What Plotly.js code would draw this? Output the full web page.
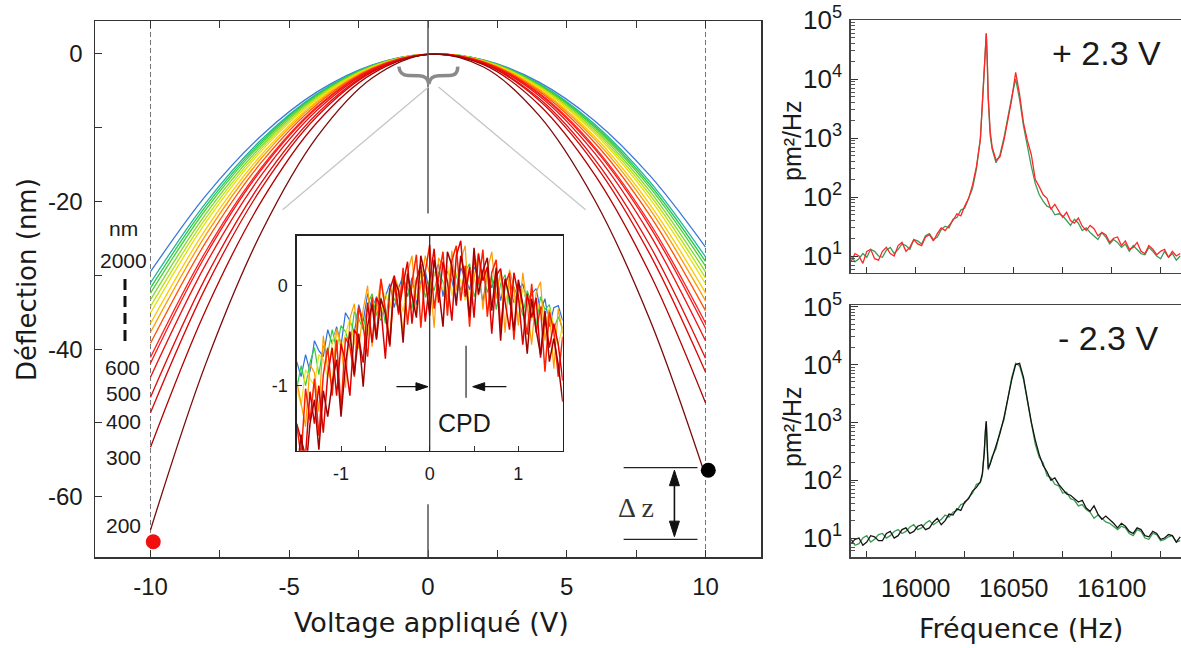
<!DOCTYPE html>
<html><head><meta charset="utf-8">
<script src="https://cdn.plot.ly/plotly-3.0.1.min.js"></script>
<style>html,body{margin:0;padding:0;background:#fff}#chart{width:1181px;height:648px}</style>
</head><body><div id="chart"></div>
<script>
// ---------------- DATA ----------------
// Main panel: deflection (nm) vs applied voltage (V), one curve per tip-sample distance (nm)
const voltage = [-10,-8,-6,-4,-2,0,2,4,6,8,10];
const distanceLabels = ['2000','1800','1600','1400','1200','1100','1000','900','800','750','700','600','550','500','400','300','200'];
const curve2000 = [-29.5,-19.16,-11.04,-5.14,-1.47,-0.03,-0.80,-3.81,-9.03,-16.49,-26.16];
const curve1800 = [-31.0,-20.13,-11.60,-5.40,-1.55,-0.03,-0.84,-4.00,-9.49,-17.33,-27.49];
const curve1600 = [-31.7,-20.59,-11.86,-5.53,-1.58,-0.03,-0.86,-4.09,-9.71,-17.72,-28.11];
const curve1400 = [-32.4,-21.04,-12.12,-5.65,-1.62,-0.03,-0.88,-4.18,-9.92,-18.11,-28.74];
const curve1200 = [-33.3,-21.63,-12.46,-5.80,-1.66,-0.03,-0.91,-4.30,-10.20,-18.61,-29.53];
const curve1100 = [-34.2,-22.21,-12.79,-5.96,-1.71,-0.03,-0.93,-4.41,-10.47,-19.11,-30.33];
const curve1000 = [-35.1,-22.79,-13.13,-6.12,-1.75,-0.03,-0.96,-4.53,-10.75,-19.62,-31.13];
const curve900  = [-36.5,-23.70,-13.65,-6.36,-1.82,-0.03,-0.99,-4.71,-11.18,-20.40,-32.37];
const curve800  = [-37.7,-24.48,-14.10,-6.57,-1.88,-0.03,-1.03,-4.86,-11.54,-21.07,-33.44];
const curve750  = [-39.2,-25.46,-14.66,-6.83,-1.95,-0.03,-1.07,-5.06,-12.00,-21.91,-34.77];
const curve700  = [-41.1,-26.69,-15.38,-7.16,-2.05,-0.03,-1.12,-5.30,-12.58,-22.97,-36.45];
const curve600  = [-41.9,-27.21,-15.67,-7.30,-2.09,-0.04,-1.14,-5.41,-12.83,-23.42,-37.16];
const curve550  = [-43.8,-28.44,-16.39,-7.63,-2.18,-0.04,-1.19,-5.65,-13.41,-24.48,-38.85];
const curve500  = [-46.5,-30.20,-17.40,-8.10,-2.32,-0.04,-1.27,-6.00,-14.24,-25.99,-41.24];
const curve400  = [-48.6,-31.56,-18.18,-8.47,-2.42,-0.04,-1.32,-6.27,-14.88,-27.16,-43.10];
const curve300  = [-53.3,-34.61,-19.94,-9.29,-2.66,-0.05,-1.45,-6.88,-16.32,-29.79,-47.27];
const curve200  = [-64.5,-41.89,-24.13,-11.24,-3.22,-0.05,-1.76,-8.32,-19.75,-36.05,-57.21];
const curves = [curve2000,curve1800,curve1600,curve1400,curve1200,curve1100,curve1000,curve900,curve800,curve750,curve700,curve600,curve550,curve500,curve400,curve300,curve200];
const curveColors = ['#3c78d8','#20b4a0','#28c850','#48d038','#80d828','#b8e018','#e8e000','#ffc800','#ff9a00','#ff5000','#ff2020','#f41818','#ec1010','#e40c0c','#d80808','#b00000','#7a0a0a'];
// end markers (red dot at -10 V, black dot at +10 V)
const dotX = [-9.9, 10.1];
const dotY = [-66.1, -56.4];
const dotColors = ['#f01010','#000000'];

// Inset: zoom on the apex, deflection (nm) vs voltage (V)
const insetV = [-1.5,-1.45,-1.4,-1.35,-1.3,-1.25,-1.2,-1.15,-1.1,-1.05,-1.0,-0.95,-0.9,-0.85,-0.8,-0.75,-0.7,-0.65,-0.6,-0.55,-0.5,-0.45,-0.4,-0.35,-0.3,-0.25,-0.2,-0.15,-0.1,-0.05,0,0.05,0.1,0.15,0.2,0.25,0.3,0.35,0.4,0.45,0.5,0.55,0.6,0.65,0.7,0.75,0.8,0.85,0.9,0.95,1.0,1.05,1.1,1.15,1.2,1.25,1.3,1.35,1.4,1.45,1.5];
const insetBlue = [-0.76,-0.91,-0.69,-0.86,-0.55,-0.65,-0.71,-0.44,-0.58,-0.41,-0.60,-0.27,-0.35,-0.47,-0.19,-0.36,-0.08,-0.25,-0.11,-0.35,-0.11,0.02,-0.22,-0.02,0.10,-0.11,0.08,-0.19,0.04,0.15,-0.08,0.11,0.22,-0.11,0.15,0.05,-0.15,0.18,0.08,-0.04,0.19,0.08,-0.16,0.12,-0.02,0.12,-0.15,0.05,0.10,-0.17,-0.04,0.02,-0.21,-0.08,-0.03,-0.25,-0.13,-0.41,-0.22,-0.20,-0.35];
const insetGreen = [-1.03,-0.80,-1.00,-0.77,-0.62,-0.89,-0.60,-0.68,-0.44,-0.64,-0.40,-0.46,-0.60,-0.26,-0.33,-0.44,-0.19,-0.08,-0.30,-0.12,-0.38,-0.02,-0.13,-0.23,0.07,-0.02,-0.23,0.07,0.15,-0.12,0.07,-0.05,0.14,0.04,-0.20,0.18,0.10,-0.05,0.15,0.22,-0.11,0.03,0.15,-0.07,0.10,-0.24,0.02,0.11,-0.19,-0.01,-0.13,-0.30,-0.05,-0.17,-0.40,-0.11,-0.24,-0.19,-0.43,-0.31,-0.43];
const insetYellow = [-1.03,-1.20,-0.84,-0.93,-1.00,-0.69,-0.74,-0.92,-0.57,-0.44,-0.64,-0.48,-0.33,-0.59,-0.32,-0.37,-0.50,-0.15,-0.21,-0.33,-0.07,-0.23,0.03,-0.10,-0.26,0.04,0.01,-0.12,0.12,-0.02,-0.21,0.13,0.07,-0.04,0.20,-0.10,0.13,0.05,-0.15,0.17,0.09,-0.10,0.12,0.16,-0.19,0.01,0.09,-0.16,-0.01,-0.13,-0.32,-0.03,-0.15,-0.35,-0.13,-0.27,-0.40,-0.22,-0.40,-0.59,-0.40];
const insetOrange = [-0.95,-1.17,-1.41,-0.79,-0.87,-1.26,-0.50,-0.84,-0.98,-0.43,-0.58,-1.02,-0.33,-0.18,-0.63,-0.24,0.00,-0.61,-0.22,0.06,-0.26,-0.52,0.10,-0.02,-0.49,0.13,0.30,-0.28,-0.01,0.30,0.11,-0.42,0.28,0.19,-0.15,0.35,-0.05,0.25,0.40,-0.31,0.08,0.33,-0.24,0.15,0.34,-0.13,0.15,-0.47,0.16,-0.02,-0.40,0.13,-0.21,-0.59,-0.07,0.04,-0.55,-0.24,-0.83,-0.23,-0.48];
const insetRed = [-1.39,-1.71,-1.03,-1.35,-0.93,-1.50,-0.89,-0.62,-1.10,-0.54,-1.23,-0.52,-0.61,-0.91,-0.21,-0.41,-0.71,-0.11,-0.52,0.07,-0.24,-0.61,0.02,-0.29,0.18,-0.39,0.03,0.31,-0.42,0.14,0.41,-0.23,0.08,0.34,-0.30,0.25,0.40,-0.15,0.20,-0.41,0.28,0.02,0.36,-0.31,0.13,0.26,-0.42,0.01,0.13,-0.54,0.02,-0.21,-0.49,0.02,-0.47,-0.21,-0.86,-0.26,-0.46,-0.91,-0.51];
const insetRed2 = [-1.38,-1.54,-1.70,-1.06,-1.38,-1.00,-1.47,-0.89,-0.62,-1.10,-0.58,-0.76,-1.10,-0.44,-0.53,-0.77,-0.17,-0.57,-0.12,-0.22,-0.73,-0.04,0.10,-0.27,0.01,0.24,-0.38,0.05,0.22,-0.36,0.05,0.37,-0.17,0.24,0.04,-0.35,0.30,0.45,-0.11,0.19,-0.32,0.32,0.05,0.19,-0.48,0.10,0.17,-0.16,-0.44,0.13,-0.10,-0.59,-0.08,-0.32,-0.12,-0.72,-0.32,-0.62,-0.38,-0.59,-0.95];
const insetDarkRed = [-1.89,-1.49,-1.88,-1.38,-1.14,-1.64,-1.05,-1.31,-0.98,-0.74,-1.31,-0.79,-0.46,-0.89,-0.48,-1.01,-0.40,-0.19,-0.54,-0.13,-0.28,-0.59,0.06,-0.05,-0.57,0.12,-0.10,-0.32,0.30,0.08,-0.30,0.26,-0.02,-0.41,0.34,0.20,-0.20,0.30,0.09,-0.31,0.38,-0.09,0.15,0.28,-0.25,0.18,-0.55,0.07,-0.12,-0.45,0.06,-0.19,-0.68,-0.13,-0.44,-0.69,-0.25,-0.76,-0.53,-0.79,-1.16];
const insetSeries = [insetBlue,insetGreen,insetYellow,insetOrange,insetRed,insetRed2,insetDarkRed];
const insetColors = ['#2f6fe0','#30d040','#f0e020','#ff9a00','#ff2000','#e00000','#a00000'];
const insetWidths = [1.2,1.2,1.2,1.2,1.5,1.5,1.5];

// Right panels: spectral density (pm²/Hz) vs frequency (Hz)
const freq = [15967,15969,15971,15973,15975,15977,15979,15981,15983,15985,15987,15989,15991,15993,15995,15997,15999,16001,16003,16005,16007,16009,16011,16013,16015,16017,16019,16021,16023,16025,16027,16029,16031,16033,
  16034,16035,16035.5,16036,16036.5,16037,16038,
  16039,16041,16043,16045,16047,16049,16051,16053,16055,16057,16059,16061,16063,16065,16067,16069,16071,16073,16075,16077,16079,16081,16083,16085,16087,16089,16091,16093,16095,16097,16099,16101,16103,16105,16107,16109,16111,16113,16115,16117,16119,16121,16123,16125,16127,16129,16131,16133,16135];
const psdPlusGreen = [10,8,9,11,9.5,13,12,10,9.5,12.5,14,11,13,16,15,13,19,18,16,22,24,19,21,28,32,30,42,45,60,65,95,140,300,1000,
  3800,16000,45000,60000,22000,4500,1100,
  650,380,520,1000,2400,5000,10000,4500,1600,700,330,170,110,85,70,65,50,52,48,40,33,42,36,27,30,25,22,19,25,21,16,19,17,14,16,12,15,13,11,10.5,14,12,10,9,12,9.5,11,8.5,10];
const psdPlusRed = [8,11,10,7.5,12,13,9,8.5,12,14,11,10,15,17,12,14,19,16,15,21,23,18,24,30,27,33,40,52,48,70,95,160,330,950,
  3500,15000,40000,58000,20000,5000,1300,
  700,420,480,900,2000,4500,13000,5500,1800,900,520,200,150,110,95,62,75,58,45,55,40,36,44,32,27,33,29,22,25,23,17,20,21,15,18,13,14,17,12,11,15,13,10.5,12,13,9.5,12,10,11];
const psdMinusGreen = [9.5,7.5,8,10,11,8.5,9.5,11.5,12,10,11,13,14,12,13,15.5,17,14,15,18,20,17,19,21,25,23,28,30,38,40,50,60,85,90,
  120,350,800,1000,350,150,200,
  260,350,700,1100,2800,6000,10500,9500,5500,2200,900,420,250,200,120,110,85,80,60,62,48,45,36,38,31,28,22,25,22,19,18,16,14,16,15,12,11,14,13,10,9.5,12,11.5,9,9.5,10.5,11,8.5,9];
const psdMinusBlack = [8,9.5,10,7.5,8.5,11,10.5,9,9,12,13,10,11,14,15,12,13,16,17,14,15,19,22,17,20,26,25,32,30,42,48,65,75,95,
  130,300,700,1050,400,160,190,
  240,380,650,1200,2600,5500,10000,10500,6000,2500,1000,500,280,180,140,100,110,85,70,58,55,48,42,45,33,29,36,26,21,24,21,18,15,18,16,13,12,15,14,11,10.5,13,12,9.5,10,11.5,11,8.5,10.5];

// Tick definitions
const mainXTicks = [-10,-5,0,5,10];
const mainXText = ['-10','-5','0','5','10'];
const mainXMinor = [-7.5,-2.5,2.5,7.5];
const mainYTicks = [0,-20,-40,-60];
const mainYText = ['0','-20','-40','-60'];
const mainYMinor = [-10,-30,-50];
const insetXTicks = [-1,0,1];
const insetXText = ['-1','0','1'];
const insetXMinor = [-0.5,0.5];
const insetYTicks = [0,-1];
const insetYText = ['0','-1'];
const freqTicks = [16000,16050,16100];
const freqText = ['16000','16050','16100'];
const freqMinor = [15975,16025,16075,16125];
const psdTicks = [10,100,1000,10000,100000];
const psdText = ['10<sup>1</sup>','10<sup>2</sup>','10<sup>3</sup>','10<sup>4</sup>','10<sup>5</sup>'];
const psdMinor = [6,7,8,9,20,30,40,50,60,70,80,90,200,300,400,500,600,700,800,900,2000,3000,4000,5000,6000,7000,8000,9000,20000,30000,40000,50000,60000,70000,80000,90000];

// ---------------- LAYOUT HELPERS ----------------
const W = 1181, H = 648;
const px = v => v / W;
const py = v => 1 - v / H;
const SANS = 'Liberation Sans, Arial, sans-serif';
const DEJA = 'DejaVu Sans, sans-serif';
const INK = '#1a1a1a';

const traces = [];
curves.forEach((c, i) => traces.push({
  x: voltage, y: c, mode: 'lines', xaxis: 'x', yaxis: 'y', name: distanceLabels[i] + ' nm',
  line: {color: curveColors[i], width: 1.3, shape: 'spline', smoothing: 1}, hoverinfo: 'skip'
}));
traces.push({x: dotX, y: dotY, mode: 'markers', xaxis: 'x', yaxis: 'y',
  marker: {size: 15, color: dotColors}, hoverinfo: 'skip'});
insetSeries.forEach((s, i) => traces.push({
  x: insetV, y: s, mode: 'lines', xaxis: 'x2', yaxis: 'y2',
  line: {color: insetColors[i], width: insetWidths[i]}, hoverinfo: 'skip'
}));
traces.push({x: freq, y: psdPlusGreen, mode: 'lines', xaxis: 'x3', yaxis: 'y3', line: {color: '#3a9c5c', width: 1.3}});
traces.push({x: freq, y: psdPlusRed, mode: 'lines', xaxis: 'x3', yaxis: 'y3', line: {color: '#ff2626', width: 1.3}});
traces.push({x: freq, y: psdMinusGreen, mode: 'lines', xaxis: 'x4', yaxis: 'y4', line: {color: '#3a9a50', width: 1.3}});
traces.push({x: freq, y: psdMinusBlack, mode: 'lines', xaxis: 'x4', yaxis: 'y4', line: {color: '#141414', width: 1.3}});

const baseAxis = {showgrid: false, zeroline: false, showline: true, linecolor: '#333', ticks: 'inside',
  tickcolor: '#333', tickwidth: 1, automargin: false, fixedrange: true, tickmode: 'array'};

const layout = {
  width: W, height: H, margin: {l: 0, r: 0, t: 0, b: 0},
  paper_bgcolor: '#ffffff', plot_bgcolor: '#ffffff', showlegend: false,
  xaxis: Object.assign({}, baseAxis, {domain: [px(95), px(761)], range: [-12, 12], anchor: 'y',
    tickvals: mainXTicks, ticktext: mainXText, ticklen: 7, linewidth: 1.5, mirror: 'ticks',
    minor: {tickmode: 'array', tickvals: mainXMinor, ticks: 'inside', ticklen: 7, tickcolor: '#333'},
    tickfont: {family: SANS, size: 24, color: INK}, ticklabelstandoff: 8}),
  yaxis: Object.assign({}, baseAxis, {domain: [py(557), py(21)], range: [-68.16, 4.47], anchor: 'x',
    tickvals: mainYTicks, ticktext: mainYText, ticklen: 7, linewidth: 1.5, mirror: true,
    minor: {tickmode: 'array', tickvals: mainYMinor, ticks: 'inside', ticklen: 7, tickcolor: '#333'},
    tickfont: {family: SANS, size: 24, color: INK}, ticklabelstandoff: 6}),
  xaxis2: Object.assign({}, baseAxis, {domain: [px(296.7), px(562.7)], range: [-1.5, 1.5], anchor: 'y2',
    tickvals: insetXTicks, ticktext: insetXText, ticklen: 5, linewidth: 1.3, linecolor: '#222', mirror: true,
    minor: {tickmode: 'array', tickvals: insetXMinor, ticks: 'inside', ticklen: 5, tickcolor: '#333'},
    tickfont: {family: SANS, size: 18, color: INK}, ticklabelstandoff: 6}),
  yaxis2: Object.assign({}, baseAxis, {domain: [py(450.7), py(235.7)], range: [-1.65, 0.5], anchor: 'x2',
    tickvals: insetYTicks, ticktext: insetYText, ticklen: 5, linewidth: 1.3, linecolor: '#222', mirror: true,
    tickfont: {family: SANS, size: 18, color: INK}, ticklabelstandoff: 4}),
  xaxis3: Object.assign({}, baseAxis, {domain: [px(850.7), 1], range: [15966.8, 16135.4], anchor: 'y3',
    tickvals: freqTicks, ticktext: freqText, showticklabels: false, ticklen: 6, linewidth: 1.5, linecolor: '#444', mirror: true,
    minor: {tickmode: 'array', tickvals: freqMinor, ticks: 'inside', ticklen: 6, tickcolor: '#333'}}),
  yaxis3: Object.assign({}, baseAxis, {type: 'log', domain: [py(272.7), py(20)], range: [0.717, 5], anchor: 'x3',
    tickvals: psdTicks, ticktext: psdText, ticklen: 7, linewidth: 1.5, linecolor: '#444', mirror: false,
    minor: {tickmode: 'array', tickvals: psdMinor, ticks: 'inside', ticklen: 4, tickcolor: '#555'},
    tickfont: {family: SANS, size: 26, color: INK}, ticklabelstandoff: 2}),
  xaxis4: Object.assign({}, baseAxis, {domain: [px(850.7), 1], range: [15966.8, 16135.4], anchor: 'y4',
    tickvals: freqTicks, ticktext: freqText, ticklen: 6, linewidth: 1.5, linecolor: '#444', mirror: true,
    minor: {tickmode: 'array', tickvals: freqMinor, ticks: 'inside', ticklen: 6, tickcolor: '#333'},
    tickfont: {family: SANS, size: 25, color: INK}, ticklabelstandoff: 8}),
  yaxis4: Object.assign({}, baseAxis, {type: 'log', domain: [py(557.3), py(305)], range: [0.667, 5.03], anchor: 'x4',
    tickvals: psdTicks, ticktext: psdText, ticklen: 7, linewidth: 1.5, linecolor: '#444', mirror: false,
    minor: {tickmode: 'array', tickvals: psdMinor, ticks: 'inside', ticklen: 4, tickcolor: '#555'},
    tickfont: {family: SANS, size: 26, color: INK}, ticklabelstandoff: 2}),
  shapes: [
    // dashed verticals at ±10 V
    {type: 'line', xref: 'x', yref: 'y domain', x0: -10, x1: -10, y0: 0, y1: 1, layer: 'below', line: {color: '#777', width: 1, dash: '5px,3px'}},
    {type: 'line', xref: 'x', yref: 'y domain', x0: 10, x1: 10, y0: 0, y1: 1, layer: 'below', line: {color: '#777', width: 1, dash: '5px,3px'}},
    // vertical at 0 V (upper and lower pieces)
    {type: 'line', xref: 'x', yref: 'y', x0: 0, x1: 0, y0: 4.47, y1: -21.6, line: {color: '#555', width: 1.5}},
    {type: 'line', xref: 'x', yref: 'y', x0: 0, x1: 0, y0: -61.0, y1: -68.16, line: {color: '#555', width: 1.5}},
    // zoom guide lines
    {type: 'line', xref: 'x', yref: 'y', x0: 0.02, y0: -4.47, x1: -5.24, y1: -21.1, line: {color: '#c4c4c4', width: 1.2}},
    {type: 'line', xref: 'x', yref: 'y', x0: 0.38, y0: -4.47, x1: 5.68, y1: -21.1, line: {color: '#c4c4c4', width: 1.2}},
    // horizontal curly brace
    {type: 'path', xref: 'x', yref: 'y', line: {color: '#8a8a8a', width: 3.5},
      path: 'M -1.05,-1.72 Q -1.02,-2.9 -0.72,-2.9 L -0.32,-2.95 Q 0.0,-3.0 0.03,-4.07 Q 0.06,-3.0 0.38,-2.95 L 0.78,-2.9 Q 1.08,-2.9 1.07,-1.72'},
    // inset 0 V line and CPD marker line
    {type: 'line', xref: 'x2', yref: 'y2 domain', x0: 0, x1: 0, y0: 0, y1: 1, line: {color: '#222', width: 1.2}},
    {type: 'line', xref: 'x2', yref: 'y2', x0: 0.41, x1: 0.41, y0: -0.60, y1: -1.12, line: {color: '#222', width: 1.2}},
    // CPD arrows (shafts + heads)
    {type: 'line', xref: 'x2', yref: 'y2', x0: -0.375, x1: -0.14, y0: -1.01, y1: -1.01, line: {color: '#111', width: 1.3}},
    {type: 'path', xref: 'x2', yref: 'y2', path: 'M -0.02,-1.01 L -0.155,-0.97 L -0.155,-1.05 Z', fillcolor: '#111', line: {color: '#111', width: 1}},
    {type: 'line', xref: 'x2', yref: 'y2', x0: 0.865, x1: 0.60, y0: -1.01, y1: -1.01, line: {color: '#111', width: 1.3}},
    {type: 'path', xref: 'x2', yref: 'y2', path: 'M 0.485,-1.01 L 0.62,-0.97 L 0.62,-1.05 Z', fillcolor: '#111', line: {color: '#111', width: 1}},
    // Δz bars
    {type: 'line', xref: 'x', yref: 'y', x0: 7.05, x1: 9.71, y0: -56.06, y1: -56.06, line: {color: '#222', width: 1.2}},
    {type: 'line', xref: 'x', yref: 'y', x0: 7.05, x1: 9.71, y0: -65.76, y1: -65.76, line: {color: '#222', width: 1.2}},
    // Δz double arrow
    {type: 'line', xref: 'x', yref: 'y', x0: 8.88, x1: 8.88, y0: -58.0, y1: -63.8, line: {color: '#111', width: 1.6}},
    {type: 'path', xref: 'x', yref: 'y', path: 'M 8.88,-56.4 L 8.70,-58.5 L 9.06,-58.5 Z', fillcolor: '#111', line: {color: '#111', width: 1}},
    {type: 'path', xref: 'x', yref: 'y', path: 'M 8.88,-65.4 L 8.70,-63.3 L 9.06,-63.3 Z', fillcolor: '#111', line: {color: '#111', width: 1}},
    // dashed bar between 2000 and 600 labels
    {type: 'line', xref: 'paper', yref: 'paper', x0: px(125), x1: px(125), y0: py(279), y1: py(345), line: {color: '#111', width: 3, dash: '11px,6px'}}
  ],
  annotations: [
    {text: 'Déflection (nm)', xref: 'paper', yref: 'paper', x: px(27), y: py(280), textangle: -90, showarrow: false,
      xanchor: 'center', yanchor: 'middle', font: {family: DEJA, size: 26, color: INK}},
    {text: 'Voltage appliqué (V)', xref: 'paper', yref: 'paper', x: px(431), y: py(622), showarrow: false,
      xanchor: 'center', yanchor: 'middle', font: {family: DEJA, size: 27, color: INK}},
    {text: 'Fréquence (Hz)', xref: 'paper', yref: 'paper', x: px(1021), y: py(628), showarrow: false,
      xanchor: 'center', yanchor: 'middle', font: {family: DEJA, size: 27, color: INK}},
    {text: 'pm²/Hz', xref: 'paper', yref: 'paper', x: px(792), y: py(141), textangle: -90, showarrow: false,
      xanchor: 'center', yanchor: 'middle', font: {family: SANS, size: 25, color: INK}},
    {text: 'pm²/Hz', xref: 'paper', yref: 'paper', x: px(792), y: py(427), textangle: -90, showarrow: false,
      xanchor: 'center', yanchor: 'middle', font: {family: SANS, size: 25, color: INK}},
    {text: '+ 2.3 V', xref: 'paper', yref: 'paper', x: px(1106), y: py(53), showarrow: false,
      xanchor: 'center', yanchor: 'middle', font: {family: SANS, size: 34, color: INK}},
    {text: '- 2.3 V', xref: 'paper', yref: 'paper', x: px(1108), y: py(338), showarrow: false,
      xanchor: 'center', yanchor: 'middle', font: {family: SANS, size: 34, color: INK}},
    {text: 'nm', xref: 'paper', yref: 'paper', x: px(123), y: py(228), showarrow: false, xanchor: 'center', yanchor: 'middle', font: {family: SANS, size: 21, color: INK}},
    {text: '2000', xref: 'paper', yref: 'paper', x: px(123), y: py(260), showarrow: false, xanchor: 'center', yanchor: 'middle', font: {family: SANS, size: 21, color: INK}},
    {text: '600', xref: 'paper', yref: 'paper', x: px(122), y: py(367), showarrow: false, xanchor: 'center', yanchor: 'middle', font: {family: SANS, size: 21, color: INK}},
    {text: '500', xref: 'paper', yref: 'paper', x: px(123), y: py(393), showarrow: false, xanchor: 'center', yanchor: 'middle', font: {family: SANS, size: 21, color: INK}},
    {text: '400', xref: 'paper', yref: 'paper', x: px(123), y: py(421), showarrow: false, xanchor: 'center', yanchor: 'middle', font: {family: SANS, size: 21, color: INK}},
    {text: '300', xref: 'paper', yref: 'paper', x: px(123), y: py(457), showarrow: false, xanchor: 'center', yanchor: 'middle', font: {family: SANS, size: 21, color: INK}},
    {text: '200', xref: 'paper', yref: 'paper', x: px(123), y: py(525), showarrow: false, xanchor: 'center', yanchor: 'middle', font: {family: SANS, size: 21, color: INK}},
    {text: 'CPD', xref: 'x2', yref: 'y2', x: 0.395, y: -1.37, showarrow: false, xanchor: 'center', yanchor: 'middle', font: {family: SANS, size: 25, color: INK}},
    {text: 'Δ z', xref: 'x', yref: 'y', x: 7.48, y: -61.5, showarrow: false, xanchor: 'center', yanchor: 'middle', font: {family: 'Liberation Serif, Times New Roman, serif', size: 28, color: '#333'}}
  ]
};

Plotly.newPlot('chart', traces, layout, {displayModeBar: false, staticPlot: true});
</script></body></html>
